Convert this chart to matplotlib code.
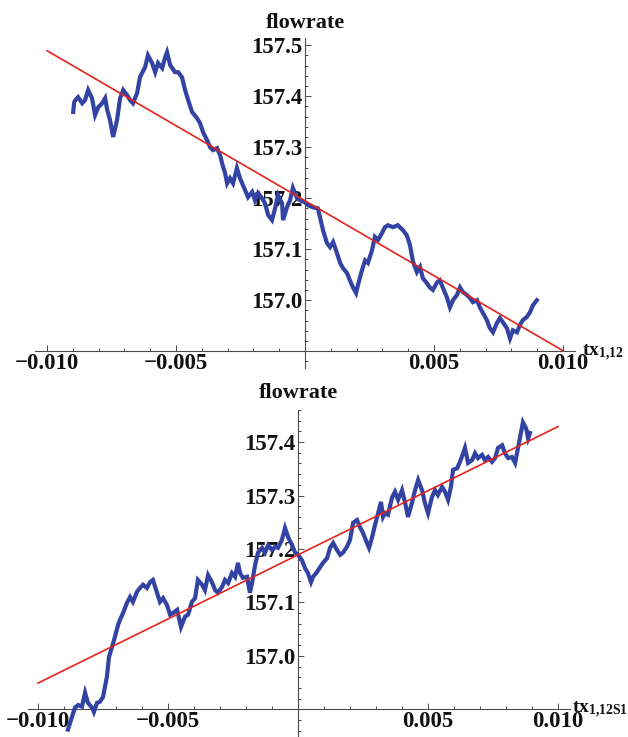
import numpy as np
import matplotlib
matplotlib.use("Agg")
import matplotlib.pyplot as plt
from matplotlib.ticker import FixedLocator, MultipleLocator

plt.rcParams["font.family"] = ["Liberation Serif", "DejaVu Serif"]
plt.rcParams["font.weight"] = "bold"
plt.rcParams["mathtext.fontset"] = "custom"
plt.rcParams["mathtext.rm"] = "Liberation Serif:bold"
plt.rcParams["mathtext.bf"] = "Liberation Serif:bold"
plt.rcParams["mathtext.it"] = "Liberation Serif:bold"

# ---- upper panel: flowrate vs tx_{1,12} (x given in units of 1e-3) ----
top_x_milli = [
    -8.99, -8.95, -8.91, -8.80, -8.64, -8.53, -8.41, -8.26, -8.14, -8.02,
    -7.87, -7.75, -7.67, -7.56, -7.44, -7.29, -7.17, -7.05, -6.90, -6.78,
    -6.67, -6.51, -6.40, -6.20, -6.09, -5.93, -5.81, -5.70, -5.54, -5.43,
    -5.35, -5.23, -5.04, -4.92, -4.77, -4.65, -4.53, -4.38, -4.19, -4.07,
    -3.95, -3.80, -3.68, -3.57, -3.41, -3.29, -3.22, -3.10, -3.02, -2.91,
    -2.79, -2.64, -2.52, -2.33, -2.21, -2.05, -1.94, -1.82, -1.67, -1.55,
    -1.43, -1.28, -1.16, -1.05, -0.89, -0.85, -0.70, -0.58, -0.47, -0.31,
    -0.19, 0.00, 0.12, 0.31, 0.50, 0.58, 0.70, 0.85, 0.97, 1.09,
    1.24, 1.36, 1.47, 1.63, 1.74, 1.86, 1.98, 2.05, 2.21, 2.33,
    2.44, 2.60, 2.71, 2.83, 2.98, 3.10, 3.22, 3.41, 3.60, 3.80,
    3.95, 4.07, 4.19, 4.34, 4.46, 4.57, 4.73, 4.84, 4.96, 5.12,
    5.23, 5.35, 5.50, 5.62, 5.74, 5.89, 6.01, 6.12, 6.28, 6.40,
    6.51, 6.67, 6.78, 6.90, 7.05, 7.17, 7.29, 7.44, 7.56, 7.67,
    7.83, 7.95, 8.06, 8.22, 8.33, 8.45, 8.60, 8.72, 8.84, 8.99,
]
top_flow = [
    157.369, 157.388, 157.392, 157.398, 157.386, 157.392, 157.412, 157.396, 157.363, 157.378,
    157.386, 157.396, 157.373, 157.353, 157.320, 157.353, 157.396, 157.412, 157.402, 157.392,
    157.386, 157.406, 157.437, 157.457, 157.480, 157.465, 157.447, 157.465, 157.455, 157.475,
    157.486, 157.461, 157.447, 157.447, 157.437, 157.412, 157.392, 157.369, 157.357, 157.347,
    157.329, 157.314, 157.300, 157.294, 157.298, 157.284, 157.269, 157.249, 157.229, 157.239,
    157.229, 157.259, 157.239, 157.216, 157.202, 157.212, 157.196, 157.210, 157.200, 157.190,
    157.167, 157.157, 157.180, 157.206, 157.190, 157.157, 157.182, 157.196, 157.220, 157.200,
    157.196, 157.192, 157.186, 157.182, 157.180, 157.163, 157.137, 157.112, 157.104, 157.114,
    157.092, 157.073, 157.063, 157.053, 157.039, 157.025, 157.014, 157.029, 157.059, 157.078,
    157.073, 157.098, 157.124, 157.118, 157.131, 157.143, 157.147, 157.143, 157.147, 157.137,
    157.127, 157.108, 157.075, 157.055, 157.065, 157.043, 157.033, 157.025, 157.020, 157.035,
    157.039, 157.024, 157.006, 156.986, 157.000, 157.010, 157.025, 157.016, 157.010, 157.004,
    156.996, 157.000, 156.986, 156.975, 156.961, 156.945, 156.937, 156.955, 156.965, 156.957,
    156.945, 156.925, 156.941, 156.937, 156.951, 156.961, 156.967, 156.976, 156.990, 157.000,
]
top_fit_x = [-0.010, 0.010]
top_fit_y = [157.489, 156.901]

# ---- lower panel: flowrate vs tx_{1,12S1} (x given in units of 1e-3) ----
bot_x_milli = [
    -8.85, -8.69, -8.58, -8.46, -8.31, -8.19, -8.08, -7.92, -7.85, -7.73,
    -7.62, -7.50, -7.35, -7.27, -7.15, -7.04, -6.92, -6.85, -6.73, -6.58,
    -6.46, -6.35, -6.19, -6.08, -5.96, -5.81, -5.69, -5.58, -5.42, -5.31,
    -5.19, -5.04, -4.92, -4.81, -4.65, -4.50, -4.35, -4.23, -4.08, -3.96,
    -3.85, -3.69, -3.58, -3.46, -3.31, -3.19, -3.08, -2.92, -2.81, -2.69,
    -2.54, -2.42, -2.31, -2.23, -2.12, -1.96, -1.85, -1.77, -1.65, -1.54,
    -1.38, -1.27, -1.15, -1.00, -0.88, -0.77, -0.62, -0.50, -0.38, -0.23,
    -0.12, 0.00, 0.15, 0.27, 0.38, 0.50, 0.58, 0.73, 0.85, 0.96,
    1.12, 1.23, 1.35, 1.50, 1.62, 1.73, 1.88, 2.00, 2.12, 2.27,
    2.38, 2.50, 2.65, 2.73, 2.85, 2.96, 3.08, 3.19, 3.27, 3.35,
    3.46, 3.62, 3.73, 3.85, 4.00, 4.12, 4.23, 4.38, 4.50, 4.62,
    4.77, 4.88, 5.00, 5.15, 5.27, 5.38, 5.54, 5.65, 5.77, 5.88,
    5.96, 6.12, 6.23, 6.35, 6.42, 6.54, 6.69, 6.81, 6.92, 7.08,
    7.19, 7.31, 7.46, 7.58, 7.69, 7.85, 7.96, 8.08, 8.23, 8.35,
    8.46, 8.58, 8.65, 8.77, 8.85, 8.92,
]
bot_flow = [
    156.862, 156.886, 156.903, 156.908, 156.905, 156.931, 156.912, 156.903, 156.895, 156.912,
    156.914, 156.923, 156.961, 156.998, 157.017, 157.036, 157.058, 157.067, 157.080, 157.099,
    157.110, 157.101, 157.120, 157.127, 157.133, 157.127, 157.138, 157.142, 157.118, 157.101,
    157.108, 157.095, 157.077, 157.080, 157.086, 157.054, 157.073, 157.077, 157.101, 157.108,
    157.142, 157.133, 157.123, 157.151, 157.138, 157.123, 157.118, 157.129, 157.142, 157.136,
    157.155, 157.148, 157.174, 157.155, 157.146, 157.148, 157.118, 157.136, 157.170, 157.193,
    157.202, 157.193, 157.207, 157.198, 157.204, 157.202, 157.217, 157.239, 157.222, 157.207,
    157.194, 157.189, 157.179, 157.164, 157.155, 157.138, 157.148, 157.157, 157.166, 157.174,
    157.183, 157.202, 157.211, 157.198, 157.189, 157.193, 157.204, 157.217, 157.249, 157.254,
    157.241, 157.230, 157.211, 157.202, 157.222, 157.245, 157.267, 157.288, 157.260, 157.267,
    157.264, 157.297, 157.307, 157.292, 157.310, 157.286, 157.260, 157.286, 157.310, 157.329,
    157.310, 157.286, 157.267, 157.297, 157.310, 157.301, 157.316, 157.307, 157.292, 157.316,
    157.348, 157.351, 157.363, 157.379, 157.389, 157.361, 157.366, 157.379, 157.370, 157.376,
    157.366, 157.372, 157.363, 157.370, 157.389, 157.394, 157.379, 157.370, 157.372, 157.361,
    157.389, 157.419, 157.437, 157.426, 157.407, 157.417,
]
bot_fit_x = [-0.010, 0.010]
bot_fit_y = [156.949, 157.429]

x_major = [-0.010, -0.005, 0.005, 0.010]
x_major_labels = ["\u22120.010", "\u22120.005", "0.005", "0.010"]
top_y_major = [157.0, 157.1, 157.2, 157.3, 157.4, 157.5]
bot_y_major = [157.0, 157.1, 157.2, 157.3, 157.4]
y_origin = 156.9

BLUE = "#3343a3"
RED = "#e3241c"
AXIS = "#4a4a4a"
FS = 16.5

W, H = 628, 737
fig = plt.figure(figsize=(W / 100, H / 100), dpi=100)
fig.patch.set_facecolor("white")

ax1 = fig.add_axes([35 / W, 1 - 368 / H, 540 / W, 330 / H])
ax1.set_xlim(-0.01047, 0.01047)
ax1.set_ylim(156.867, 157.514)

ax2 = fig.add_axes([28 / W, 1 - 736 / H, 542 / W, 326 / H])
ax2.set_xlim(-0.010385, 0.01046)
ax2.set_ylim(156.850, 157.460)


def style_axes(ax, y_major, xlabel_math, flow_off, tx_off):
    ax.set_facecolor("none")
    for s in ("top", "right"):
        ax.spines[s].set_visible(False)
    ax.spines["left"].set_position(("data", 0.0))
    ax.spines["bottom"].set_position(("data", y_origin))
    for s in ("left", "bottom"):
        ax.spines[s].set_color(AXIS)
        ax.spines[s].set_linewidth(0.8)
        ax.spines[s].set_zorder(1)

    ax.xaxis.set_major_locator(FixedLocator(x_major))
    ax.set_xticklabels(x_major_labels)
    ax.xaxis.set_minor_locator(MultipleLocator(0.001))
    ax.yaxis.set_major_locator(FixedLocator(y_major))
    ax.set_yticklabels([f"{v:.1f}" for v in y_major])
    ax.yaxis.set_minor_locator(MultipleLocator(0.02))

    ax.tick_params(which="both", direction="in", color=AXIS, width=0.7,
                   labelsize=FS, labelcolor="#111111")
    ax.tick_params(which="major", length=4.5)
    ax.tick_params(which="minor", length=2.5)
    ax.tick_params(axis="x", which="major", pad=1.5)
    ax.tick_params(axis="y", which="major", pad=2.0)
    for lab in ax.get_xticklabels() + ax.get_yticklabels():
        lab.set_fontweight("bold")

    ax.annotate("flowrate", xy=(0.0, 1.0), xycoords=("data", "axes fraction"),
                xytext=(0, flow_off), textcoords="offset points",
                ha="center", va="baseline", fontsize=16, fontweight="bold",
                color="#111111", annotation_clip=False)
    ax.annotate(xlabel_math, xy=(1.0, y_origin), xycoords=("axes fraction", "data"),
                xytext=tx_off, textcoords="offset points",
                ha="left", va="baseline", fontsize=14, color="#111111",
                annotation_clip=False)


style_axes(ax1, top_y_major, r"$\mathrm{tx}_{\mathrm{1{,}12}}$", 7.2, (5.0, -3.0))
style_axes(ax2, bot_y_major, r"$\mathrm{tx}_{\mathrm{1{,}12S1}}$", 8.6, (1.5, -2.8))

ax1.plot(np.asarray(top_x_milli) * 1e-3, top_flow, color=BLUE, lw=3.0,
         solid_joinstyle="miter", zorder=3, clip_on=False)
ax1.plot(top_fit_x, top_fit_y, color=RED, lw=1.2, zorder=4, clip_on=False)

ax2.plot(np.asarray(bot_x_milli) * 1e-3, bot_flow, color=BLUE, lw=3.0,
         solid_joinstyle="miter", zorder=3, clip_on=False)
ax2.plot(bot_fit_x, bot_fit_y, color=RED, lw=1.2, zorder=4, clip_on=False)

fig.savefig("out.png", dpi=100, facecolor="white")
